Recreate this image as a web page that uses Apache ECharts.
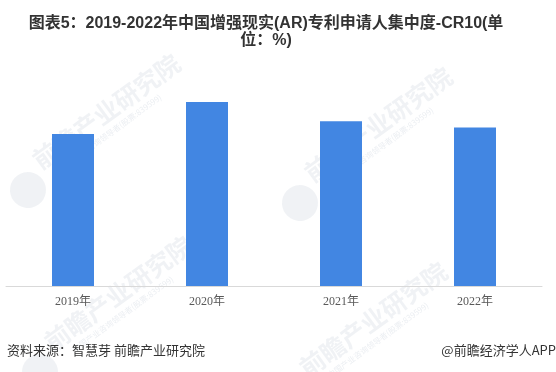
<!DOCTYPE html>
<html>
<head>
<meta charset="utf-8">
<script src="https://cdn.jsdelivr.net/npm/echarts@6/dist/echarts.min.js"></script>
<style>
html,body{margin:0;padding:0;background:#fff;}
#chart{width:556px;height:372px;}
</style>
</head>
<body>
<div id="chart"></div>
<script>
var categories = ['2019年', '2020年', '2021年', '2022年'];
var cr10Values = [19.0, 23.0, 20.6, 19.8];
var titleText = '图表5：2019-2022年中国增强现实(AR)专利申请人集中度-CR10(单\n位：%)';
var sourceText = '资料来源：智慧芽 前瞻产业研究院';
var brandText = '@前瞻经济学人APP';
var wmMain = '前瞻产业研究院';
var wmSubText = '中国产业咨询领导者(股票:839599)';

function watermark(x, y) {
  return {
    type: 'group', x: x, y: y, rotation: Math.PI * 36 / 180, z: 20, silent: true,
    children: [
      {type: 'circle', shape: {cx: 0, cy: 0, r: 18}, style: {fill: 'rgba(205,212,222,0.3)'}},
      {type: 'text', x: 22, y: -30,
       style: {text: wmMain, fill: 'rgba(205,212,222,0.3)', font: 'bold 25px "Noto Sans CJK SC", sans-serif'}},
      {type: 'text', x: 40, y: -2,
       style: {text: wmSubText, fill: 'rgba(205,212,222,0.4)', font: '8px "Noto Sans CJK SC", sans-serif'}}
    ]
  };
}

var chart = echarts.init(document.getElementById('chart'), null, {renderer: 'canvas'});
chart.setOption({
  animation: false,
  backgroundColor: '#ffffff',
  title: {
    text: titleText,
    left: 261,
    top: 10,
    textAlign: 'center',
    textStyle: {
      fontFamily: '"Liberation Sans", "Noto Sans CJK SC", sans-serif',
      fontWeight: 'bold',
      fontSize: 16,
      lineHeight: 17,
      color: '#333333'
    }
  },
  graphic: [
    watermark(28, 190),
    watermark(300, 203),
    watermark(40, 372),
    watermark(295, 398),
    {type: 'text', left: 7, top: 344, z: 10,
     style: {text: sourceText, fill: '#333333', font: '13px "Noto Sans CJK SC", sans-serif'}},
    {type: 'text', right: 0, top: 344, z: 10,
     style: {text: brandText, fill: '#333333', font: '13px "Noto Sans CJK SC", sans-serif'}}
  ],
  grid: {left: 6, right: 14, top: 86, bottom: 86, containLabel: false},
  xAxis: {
    type: 'category',
    data: categories,
    axisLine: {show: true, lineStyle: {color: '#d9d9d9', width: 1}},
    axisTick: {show: false},
    axisLabel: {
      color: '#595959',
      fontSize: 12,
      margin: 10,
      fontFamily: '"Liberation Serif", "Noto Sans CJK SC", serif'
    }
  },
  yAxis: {
    type: 'value',
    min: 0,
    max: 25,
    show: false,
    splitLine: {show: false}
  },
  series: [{
    type: 'bar',
    data: cr10Values,
    barWidth: 42,
    itemStyle: {color: '#4286e2'},
    z: 5
  }]
});
</script>
</body>
</html>
